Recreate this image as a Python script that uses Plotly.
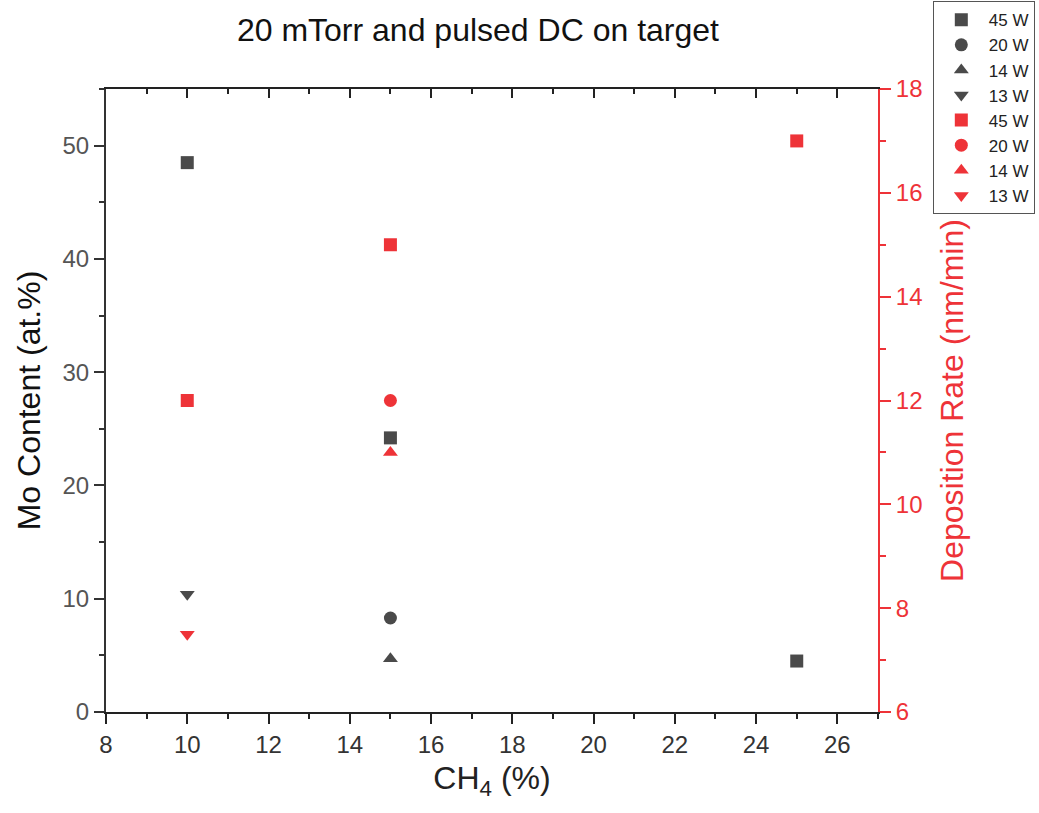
import plotly.graph_objects as go

# CH4 fraction (%) for each sample, grouped by target power
power_labels = ["45 W", "20 W", "14 W", "13 W"]
symbols = ["square", "circle", "triangle-up", "triangle-down"]

ch4_45w = [10, 15, 25]
ch4_20w = [15]
ch4_14w = [15]
ch4_13w = [10]

# Mo content (at.%)
mo_45w = [48.5, 24.2, 4.5]
mo_20w = [8.3]
mo_14w = [4.7]
mo_13w = [10.4]

# Deposition rate (nm/min)
rate_45w = [12.0, 15.0, 17.0]
rate_20w = [12.0]
rate_14w = [11.0]
rate_13w = [7.5]

GREY = "#4a4a4a"
RED = "#ee3338"
FONT = "Liberation Sans, Arial, sans-serif"

ch4 = [ch4_45w, ch4_20w, ch4_14w, ch4_13w]
mo = [mo_45w, mo_20w, mo_14w, mo_13w]
rate = [rate_45w, rate_20w, rate_14w, rate_13w]

fig = go.Figure()

for lbl, sym, xs, ys in zip(power_labels, symbols, ch4, mo):
    fig.add_trace(go.Scatter(
        x=xs, y=ys, mode="markers", name=lbl,
        marker=dict(symbol=sym, size=13, color=GREY, line=dict(width=0)),
        xaxis="x", yaxis="y",
    ))

for lbl, sym, xs, ys in zip(power_labels, symbols, ch4, rate):
    fig.add_trace(go.Scatter(
        x=xs, y=ys, mode="markers", name=lbl,
        marker=dict(symbol=sym, size=13, color=RED, line=dict(width=0)),
        xaxis="x", yaxis="y2",
    ))

# invisible trace so the mirrored top axis is drawn
fig.add_trace(go.Scatter(x=[8], y=[0], mode="markers", marker=dict(opacity=0),
                         xaxis="x2", yaxis="y", showlegend=False, hoverinfo="skip"))

fig.update_layout(
    width=1039, height=813,
    plot_bgcolor="white", paper_bgcolor="white",
    margin=dict(l=106, r=161, t=89, b=101, autoexpand=False),
    font=dict(family=FONT, color="#222222"),
    title=dict(text="20 mTorr and pulsed DC on target", x=0.46, xref="container",
               y=0.963, yref="container", xanchor="center", yanchor="middle",
               font=dict(size=32, color="#111111", family=FONT)),
    xaxis=dict(
        range=[8, 27], dtick=2, tick0=8,
        showline=True, linecolor="#222222", linewidth=2,
        ticks="outside", ticklen=10, tickwidth=2, tickcolor="#222222",
        minor=dict(dtick=1, ticks="outside", ticklen=5, tickwidth=2, tickcolor="#222222"),
        showgrid=False, zeroline=False,
        tickfont=dict(size=24, color="#333333"),
        title=dict(text="CH<sub>4</sub> (%)", font=dict(size=32, color="#222222"), standoff=10),
    ),
    xaxis2=dict(
        range=[8, 27], dtick=2, tick0=8, overlaying="x", side="top", anchor="y",
        showline=True, linecolor="#222222", linewidth=2,
        ticks="inside", ticklen=9, tickwidth=2, tickcolor="#222222",
        minor=dict(dtick=1, ticks="inside", ticklen=5, tickwidth=2, tickcolor="#222222"),
        showticklabels=False, showgrid=False, zeroline=False,
    ),
    yaxis=dict(
        range=[0, 55], dtick=10, tick0=0,
        showline=True, linecolor="#333333", linewidth=2,
        ticks="outside", ticklen=10, tickwidth=2, tickcolor="#333333",
        minor=dict(dtick=5, ticks="outside", ticklen=5, tickwidth=2, tickcolor="#333333"),
        showgrid=False, zeroline=False,
        tickfont=dict(size=24, color="#555555"),
        title=dict(text="Mo Content (at.%)", font=dict(size=32, color="#111111"), standoff=12),
    ),
    yaxis2=dict(
        range=[6, 18], dtick=2, tick0=6, overlaying="y", side="right", anchor="x",
        showline=True, linecolor=RED, linewidth=2,
        ticks="outside", ticklen=11, tickwidth=2, tickcolor=RED,
        minor=dict(dtick=1, ticks="outside", ticklen=6, tickwidth=2, tickcolor=RED),
        showgrid=False, zeroline=False,
        tickfont=dict(size=24, color=RED),
        title=dict(text="Deposition Rate (nm/min)", font=dict(size=32, color=RED), standoff=19),
    ),
    legend=dict(
        x=1.071, y=1.141, xanchor="left", yanchor="top",
        bordercolor="#555555", borderwidth=1, bgcolor="white",
        font=dict(size=17, color="#222222"), tracegroupgap=0,
        itemwidth=45,
    ),
)

fig.write_html("out.html")
